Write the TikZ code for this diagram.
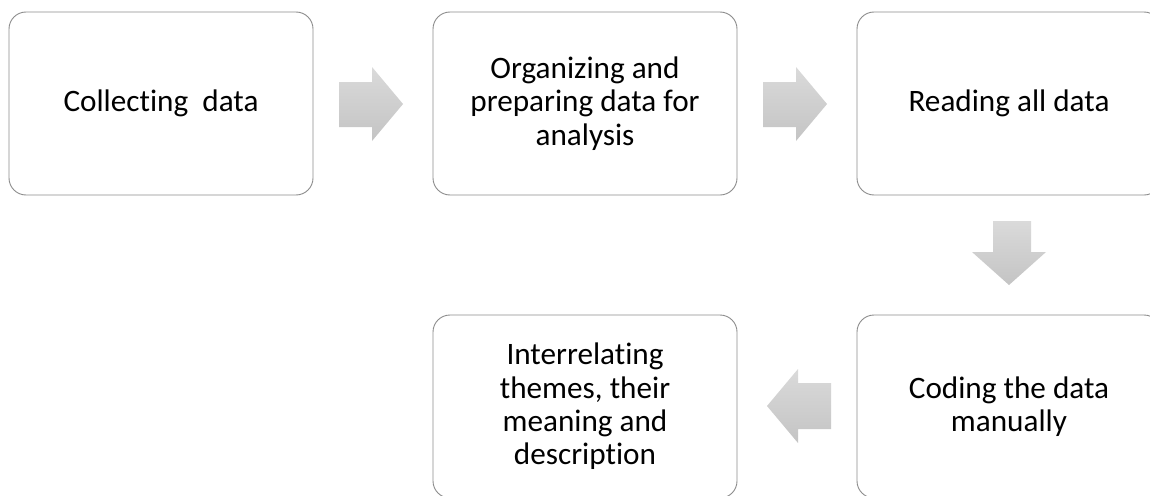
\documentclass[tikz,border=0pt]{standalone}
\usepackage{fontspec}
\setmainfont{Carlito}[Ligatures={NoCommon,NoRequired,NoContextual}]
\definecolor{boxline}{HTML}{8C8C8C}
\definecolor{arrtop}{HTML}{DADADA}
\definecolor{arrbot}{HTML}{C4C4C4}
\begin{document}
\begin{tikzpicture}[x=1pt,y=1pt,
  stepbox/.style={draw=boxline, line width=0.9pt, rounded corners=17pt, fill=white,
    minimum width=304pt, minimum height=183pt, align=center,
    font=\fontsize{31.2}{33.4}\selectfont, inner sep=0pt},
  blockarrow/.style={top color=arrtop, bottom color=arrbot, draw=none}]
\useasboundingbox (0,0) rectangle (1150,-495);
\clip (0,0) rectangle (1150,-495);
\fill[white] (0,0) rectangle (1150,-495);
\node[stepbox] (b1) at (161,-103.5) {Collecting\ \ data};
\node[stepbox] (b2) at (585,-103.5) {Organizing and\\preparing data for\\analysis};
\node[stepbox] (b3) at (1009,-103.5) {Reading all data};
\node[stepbox] (b4) at (1009,-406.5) {Coding the data\\manually};
\node[stepbox] (b5) at (585,-406.5) {Interrelating\\themes, their\\meaning and\\description};
% block arrows
\path[blockarrow] (339,-82) -- (372,-82) -- (372,-67) -- (403,-104) -- (372,-141) -- (372,-127) -- (339,-127) -- cycle;
\path[blockarrow] (763,-82) -- (796,-82) -- (796,-67) -- (827,-104) -- (796,-141) -- (796,-127) -- (763,-127) -- cycle;
\path[blockarrow] (993,-221) -- (1031,-221) -- (1031,-252) -- (1046,-252) -- (1009,-285) -- (972,-252) -- (993,-252) -- cycle;
\path[blockarrow] (831,-383) -- (798,-383) -- (798,-369) -- (767,-406) -- (798,-443) -- (798,-429) -- (831,-429) -- cycle;
\end{tikzpicture}
\end{document}
